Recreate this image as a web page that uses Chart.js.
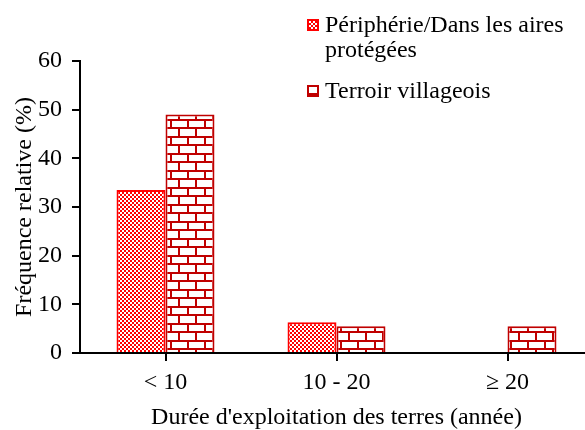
<!DOCTYPE html>
<html>
<head>
<meta charset="utf-8">
<script src="https://cdn.jsdelivr.net/npm/chart.js@4"></script>
<style>
  html, body { margin: 0; padding: 0; background: #fff; overflow: hidden; }
  #wrap { position: relative; width: 600px; height: 430px; }
  #legend { position: absolute; left: 307px; top: 12px; font-family: 'Liberation Serif', serif; font-size: 24px; color: #000; line-height: 25px; white-space: nowrap; }
  .item { position: relative; padding-left: 18px; margin-bottom: 16px; }
  .item canvas { position: absolute; left: 0; top: 7px; }
</style>
</head>
<body>
<div id="wrap">
  <canvas id="chart" width="600" height="430"></canvas>
  <div id="legend"></div>
</div>
<script>
// data
const categories = ['< 10', '10 - 20', '≥ 20'];
const seriesNames = ['Périphérie/Dans les aires\nprotégées', 'Terroir villageois'];
const peripherie = [33.5, 6.3, 0];
const terroir = [49, 5.5, 5.5];
const yTicks = [0, 10, 20, 30, 40, 50, 60];

const FONT = 'Liberation Serif';

// red checkerboard fill
function checkerPattern() {
  const c = document.createElement('canvas');
  c.width = 4; c.height = 4;
  const g = c.getContext('2d');
  g.fillStyle = '#ff0000';
  g.fillRect(0, 0, 4, 4);
  g.fillStyle = '#ffffff';
  g.fillRect(0, 0, 2, 2);
  g.fillRect(2, 2, 2, 2);
  return c;
}

// brick wall fill
function brickPattern() {
  const c = document.createElement('canvas');
  c.width = 34; c.height = 17;
  const g = c.getContext('2d');
  g.fillStyle = '#ffffff';
  g.fillRect(0, 0, 34, 17);
  g.fillStyle = '#c00000';
  g.fillRect(0, 0, 34, 2);
  g.fillRect(0, 8, 34, 2);
  g.fillRect(0, 2, 2, 6);
  g.fillRect(17, 2, 2, 6);
  g.fillRect(8, 10, 2, 7);
  g.fillRect(25, 10, 2, 7);
  return c;
}

const ctx = document.getElementById('chart').getContext('2d');
const checker = ctx.createPattern(checkerPattern(), 'repeat');
const brick = ctx.createPattern(brickPattern(), 'repeat');

// html legend with small swatches
const legendEl = document.getElementById('legend');
[[checker, '#ff0000'], [brick, '#c00000']].forEach(([fill, border], i) => {
  const item = document.createElement('div');
  item.className = 'item';
  const sw = document.createElement('canvas');
  sw.width = 12; sw.height = 12;
  const sg = sw.getContext('2d');
  sg.fillStyle = sg.createPattern(i === 0 ? checkerPattern() : brickPattern(), 'repeat');
  sg.fillRect(0, 0, 12, 12);
  sg.strokeStyle = border;
  sg.lineWidth = 2;
  sg.strokeRect(1, 1, 10, 10);
  item.appendChild(sw);
  seriesNames[i].split('\n').forEach(line => {
    const d = document.createElement('div');
    d.textContent = line;
    item.appendChild(d);
  });
  legendEl.appendChild(item);
});

new Chart(ctx, {
  type: 'bar',
  data: {
    labels: categories,
    datasets: [
      {
        label: seriesNames[0],
        data: peripherie,
        backgroundColor: checker,
        borderColor: '#ff0000',
        borderWidth: c => (c.raw ? 2 : 0),
        borderSkipped: 'bottom'
      },
      {
        label: seriesNames[1],
        data: terroir,
        backgroundColor: brick,
        borderColor: '#c00000',
        borderWidth: c => (c.raw ? 2 : 0),
        borderSkipped: 'bottom'
      }
    ]
  },
  options: {
    responsive: false,
    animation: false,
    layout: { padding: { top: 61, right: 7, left: 0, bottom: 0 } },
    datasets: { bar: { categoryPercentage: 0.573, barPercentage: 1.0 } },
    plugins: { legend: { display: false }, tooltip: { enabled: false } },
    scales: {
      x: {
        afterFit: s => { s.height = 77; },
        border: { color: '#000', width: 2 },
        grid: { offset: false, drawOnChartArea: false, color: '#000', lineWidth: 2, tickLength: 8 },
        ticks: { color: '#000', font: { family: FONT, size: 24, lineHeight: 1 }, padding: 10 },
        title: { display: true, text: "Durée d'exploitation des terres (année)", color: '#000', font: { family: FONT, size: 24, lineHeight: 1 }, padding: { top: 0, bottom: 0 } }
      },
      y: {
        min: 0,
        max: 60,
        afterFit: s => { s.width = 80; },
        afterBuildTicks: s => { s.ticks = yTicks.map(v => ({ value: v })); },
        border: { color: '#000', width: 2 },
        grid: { drawOnChartArea: false, color: '#000', lineWidth: 2, tickLength: 8 },
        ticks: { color: '#000', font: { family: FONT, size: 24 }, padding: 10 },
        title: { display: true, text: 'Fréquence relative (%)', color: '#000', font: { family: FONT, size: 24, lineHeight: 1 }, padding: { top: 13, bottom: 0 } }
      }
    }
  }
});
</script>
</body>
</html>
